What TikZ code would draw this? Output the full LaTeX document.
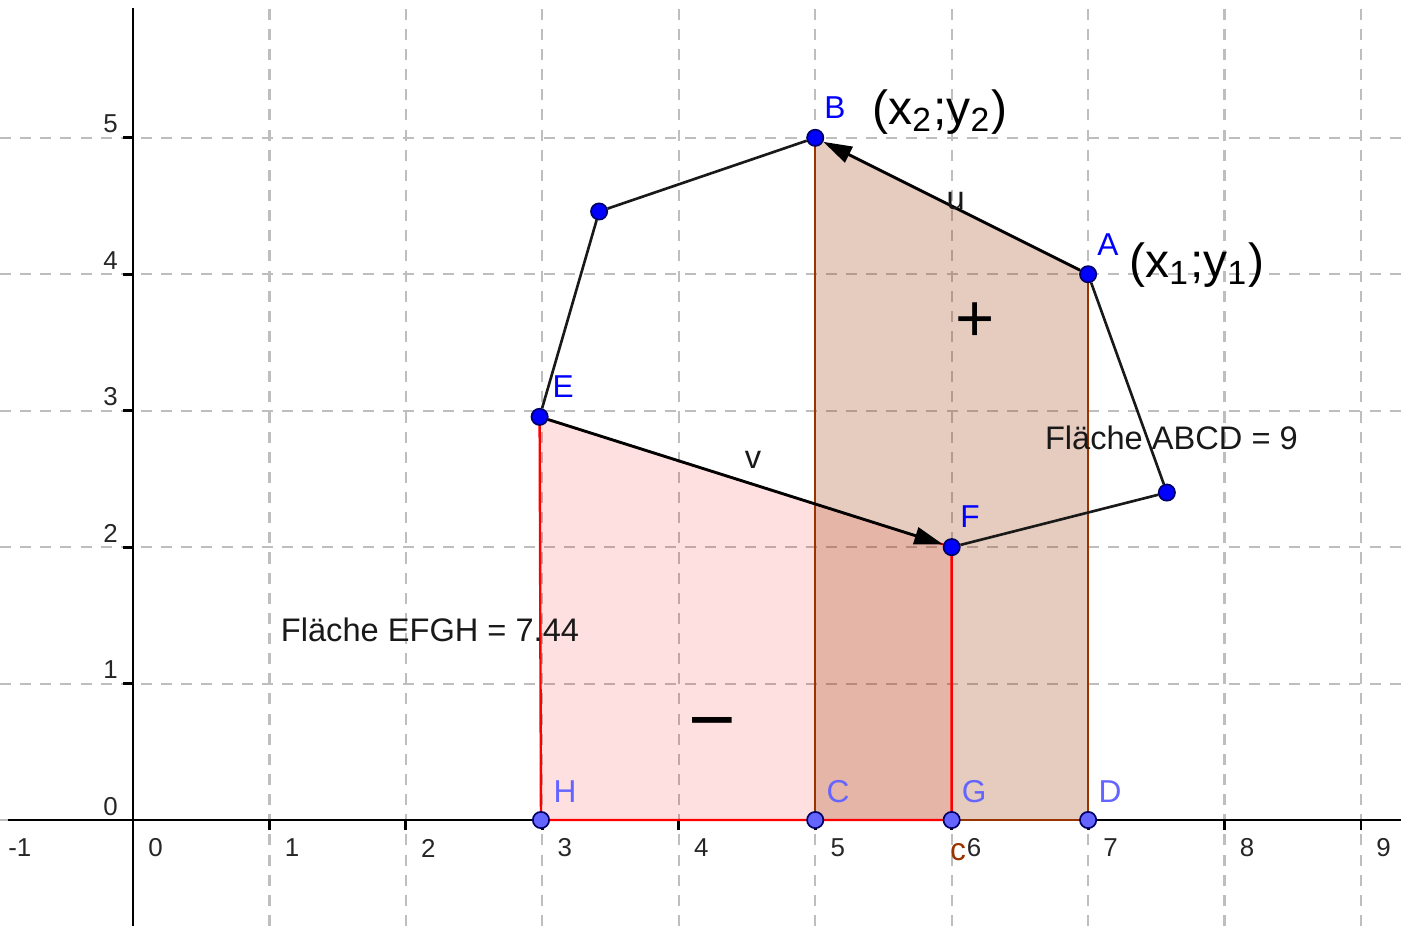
\documentclass[tikz,border=0pt]{standalone}
\usepackage{fontspec}
\setmainfont{Liberation Sans}
\usetikzlibrary{arrows.meta, backgrounds}
\definecolor{ggbrown}{RGB}{153,51,0}
\definecolor{ggblue}{RGB}{0,0,255}
\definecolor{gglight}{RGB}{100,100,255}
\definecolor{gggrid}{RGB}{190,190,190}
\tikzstyle{gridline} = [
    gggrid,
    line width=0.45pt,
    dash pattern=on 2.3pt off 1.9pt
]
\tikzstyle{axis} = [black, line width=0.6pt]
\tikzstyle{ticklabel} = [
    font=\fontsize{5.4}{6}\selectfont,
    text=black!85,
    inner sep=0pt
]
\tikzstyle{point} = [
    circle,
    fill=ggblue,
    draw=black!60!blue,
    line width=0.35pt,
    inner sep=0pt,
    minimum size=3.4pt
]
\tikzstyle{axpoint} = [point, fill=gglight]
\tikzstyle{ptlabel} = [
    font=\fontsize{6.6}{8}\selectfont,
    text=ggblue,
    inner sep=0pt
]
\tikzstyle{axlabel} = [ptlabel, text=gglight]
\tikzstyle{txt} = [
    font=\fontsize{6.8}{8}\selectfont,
    text=black!90,
    inner sep=0pt
]
\tikzstyle{coord} = [font=\fontsize{10}{12}\selectfont, inner sep=0pt]
\tikzstyle{edge} = [black!90, line width=0.55pt]
\tikzstyle{vector} = [black, line width=0.6pt, -{Triangle[length=6pt, width=3.6pt]}]

\begin{document}
\begin{tikzpicture}

\useasboundingbox (-0.975,-0.777) rectangle (9.315,6.010);

\node (B) [point] at (5,5) {};
\node (A) [point] at (7,4) {};
\node (corner1) [point] at (3.416,4.46) {};
\node (E) [point] at (2.98,2.955) {};
\node (F) [point] at (6,2) {};
\node (corner2) [point] at (7.577,2.40) {};
\node (H) [axpoint] at (2.99,0) {};
\node (C) [axpoint] at (5,0) {};
\node (G) [axpoint] at (6,0) {};
\node (D) [axpoint] at (7,0) {};

\begin{pgfonlayer}{background}
\foreach \x in {0,...,9}
    \draw [gridline] (\x,-0.777) -- (\x,6.010);
\foreach \y in {0,...,5}
    \draw [gridline] (-0.975,\y) -- (9.315,\y);
\draw [axis] (-0.92,0) -- (9.29,0);
\draw [axis] (0,-0.777) -- (0,5.95);
\foreach \x in {1,...,9}
    \draw [axis] (\x,0) -- (\x,-0.07);
\foreach \y in {1,...,5}
    \draw [axis] (0,\y) -- (-0.07,\y);
\fill [red, fill opacity=0.12] (E.center) -- (F.center) -- (G.center) -- (H.center) -- cycle;
\fill [ggbrown, fill opacity=0.25] (A.center) -- (B.center) -- (C.center) -- (D.center) -- cycle;
\draw [ggbrown, line width=0.5pt] (B.center) -- (C.center) -- (D.center) -- (A.center);
\draw [red, line width=0.5pt] (E.center) -- (H.center) -- (G.center) -- (F.center);
\draw [red, line width=0.4pt] (E.center) -- (F.center);
\end{pgfonlayer}

\draw [edge] (B) -- (corner1) -- (E);
\draw [edge] (F) -- (corner2) -- (A);
\draw [vector] (A) -- (B);
\draw [vector] (E) -- (F);

\foreach \x in {0,...,9}
    \node [ticklabel] at (\x+0.165,-0.205) {\x};
\node [ticklabel] at (-0.83,-0.205) {-1};
\foreach \y in {0,...,5}
    \node [ticklabel] at (-0.165,\y+0.1) {\y};

\node (Blabel) [ptlabel] at (5.145,5.218) {B};
\node (Alabel) [ptlabel] at (7.146,4.214) {A};
\node (Elabel) [ptlabel] at (3.152,3.174) {E};
\node (Flabel) [ptlabel] at (6.134,2.221) {F};
\node (Hlabel) [axlabel] at (3.166,0.205) {H};
\node (Clabel) [axlabel] at (5.167,0.205) {C};
\node (Glabel) [axlabel] at (6.164,0.205) {G};
\node (Dlabel) [axlabel] at (7.161,0.205) {D};
\node (clabel) [ptlabel, text=ggbrown] at (6.047,-0.235) {c};
\node (ulabel) [txt] at (6.03,4.54) {u};
\node (vlabel) [txt] at (4.544,2.638) {v};

\node (Bcoord) [coord] at (5.915,5.189) {(x\textsubscript{2};y\textsubscript{2})};
\node (Acoord) [coord] at (7.798,4.068) {(x\textsubscript{1};y\textsubscript{1})};

\node (plus) [font=\fontsize{14}{16}\selectfont, inner sep=0pt] at (6.171,3.65) {+};
\node (minus) [font=\fontsize{17}{18}\selectfont, inner sep=0pt] at (4.244,0.64) {−};

\node (areaABCD) [txt, anchor=west] at (6.677,2.80) {Fläche ABCD = 9};
\node (areaEFGH) [txt, anchor=west] at (1.077,1.393) {Fläche EFGH = 7.44};

\end{tikzpicture}
\end{document}
